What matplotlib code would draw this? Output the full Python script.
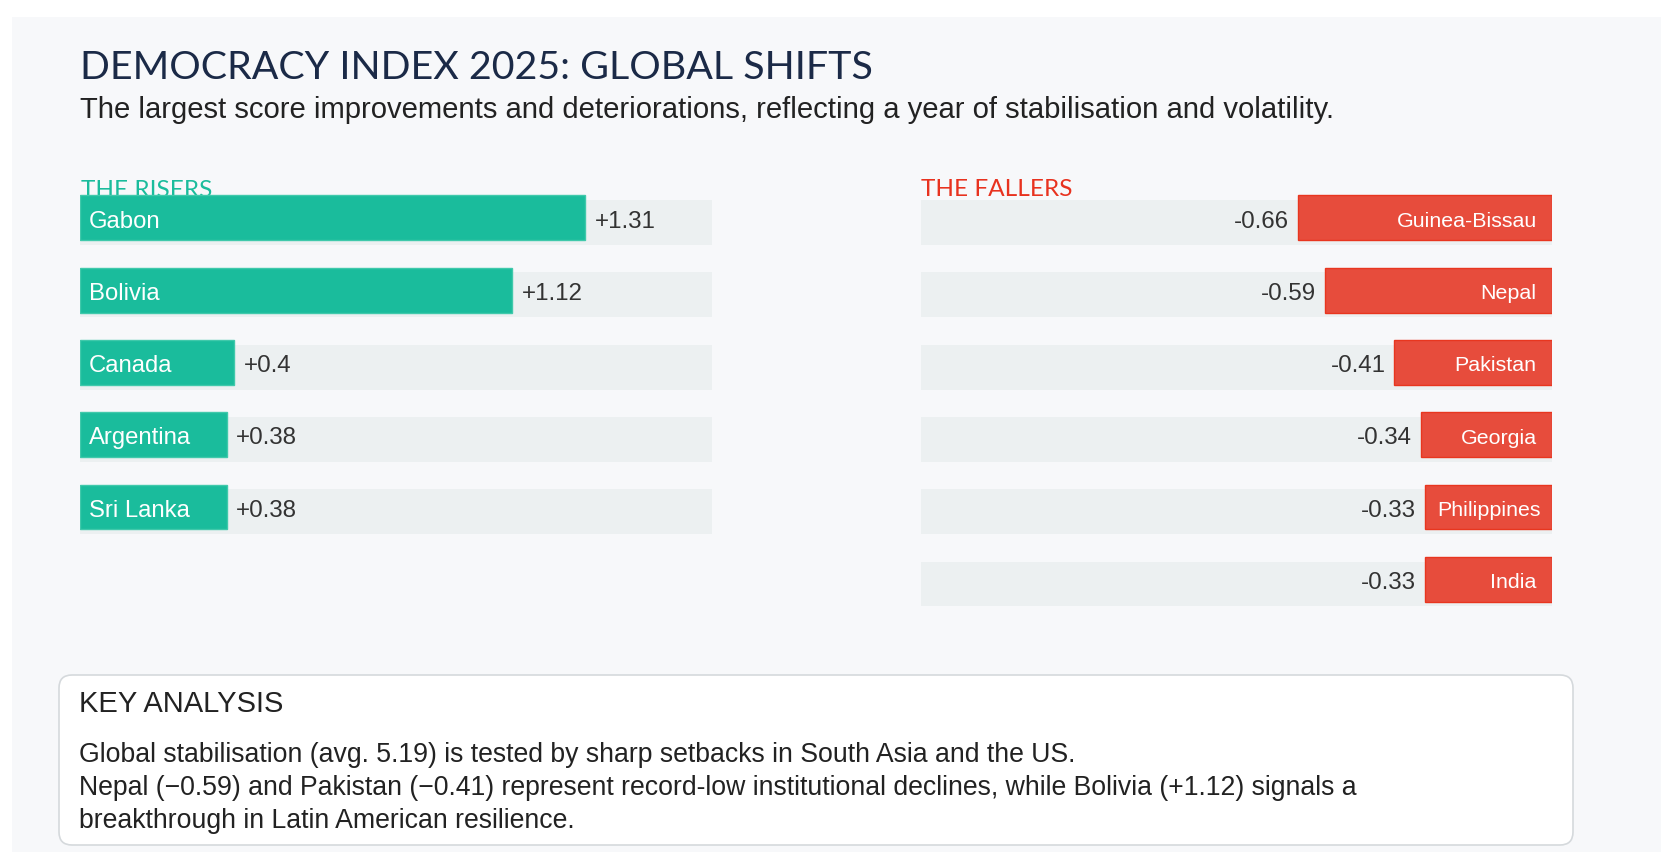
import matplotlib.pyplot as plt
from matplotlib.patches import Rectangle, FancyBboxPatch

# data
risers = ['Gabon', 'Bolivia', 'Canada', 'Argentina', 'Sri Lanka']
riser_values = [1.31, 1.12, 0.4, 0.38, 0.38]
fallers = ['Guinea-Bissau', 'Nepal', 'Pakistan', 'Georgia', 'Philippines', 'India']
faller_values = [-0.66, -0.59, -0.41, -0.34, -0.33, -0.33]

title = 'DEMOCRACY INDEX 2025: GLOBAL SHIFTS'
subtitle = ('The largest score improvements and deteriorations, '
            'reflecting a year of stabilisation and volatility.')
note_title = 'KEY ANALYSIS'
note_lines = [
    'Global stabilisation (avg. 5.19) is tested by sharp setbacks in South Asia and the US.',
    'Nepal (\u22120.59) and Pakistan (\u22120.41) represent record-low institutional declines, '
    'while Bolivia (+1.12) signals a',
    'breakthrough in Latin American resilience.',
]

TEAL = '#1abc9c'
RED = '#e74c3c'
TRACK = '#ecf0f1'
INK = '#222222'
SANS = 'Liberation Sans'

W, H = 1661, 853
fig = plt.figure(figsize=(W / 100, H / 100), dpi=100)
fig.patch.set_facecolor('white')

# background layer in pixel units
bg = fig.add_axes([0, 0, 1, 1])
bg.set_xlim(0, W)
bg.set_ylim(H, 0)
bg.axis('off')
bg.add_patch(Rectangle((12, 18), W - 12, H - 18, color='#f7f8fa', lw=0))
bg.add_patch(FancyBboxPatch((59, 676), 1573 - 59, 846 - 676,
                            boxstyle='round,pad=0,rounding_size=13',
                            fc='white', ec='#d5d9dc', lw=1.2))

bg.text(80, 79, title, fontsize=28.4, family='Lato', color='#1b2a47', va='baseline')
bg.text(80, 118, subtitle, fontsize=21.1, family=SANS, color=INK, va='baseline')
bg.text(81, 197, 'THE RISERS', fontsize=17.6, family='Lato', color=TEAL, va='baseline')
bg.text(921, 196, 'THE FALLERS', fontsize=17.6, family='Lato', color='#e8321f',
        va='baseline')
bg.text(79, 712, note_title, fontsize=21, family=SANS, color=INK, va='baseline')
for k, line in enumerate(note_lines):
    bg.text(79, 762 + 33 * k, line, fontsize=19.2, family=SANS,
            color=INK, va='baseline')


def px_axes(x0, x1, y0, y1):
    ax = fig.add_axes([x0 / W, 1 - y1 / H, (x1 - x0) / W, (y1 - y0) / H])
    ax.patch.set_alpha(0)
    ax.axis('off')
    return ax


top, pitch = 187.35, 72.3
ax_r = px_axes(80, 711.7, top, top + 6 * pitch)
ax_f = px_axes(921, 1552, top, top + 6 * pitch)

dmax = max(abs(v) for v in riser_values + faller_values) * 1.25
bar_h = 0.622
lift = 0.065  # bars sit slightly above their track

# risers
rows_r = list(range(len(risers)))
ax_r.barh(rows_r, [dmax] * len(risers), height=bar_h, color=TRACK, zorder=1)
ax_r.barh([i - lift for i in rows_r], riser_values, height=bar_h,
          color=TEAL, edgecolor='#40c9ab', lw=1, zorder=2)
ax_r.set_xlim(0, dmax)
ax_r.set_ylim(5.5, -0.5)
for i, (name, v) in enumerate(zip(risers, riser_values)):
    ax_r.annotate(f'{v:+g}', xy=(v, i - lift), xytext=(6.8, -6.3),
                  textcoords='offset points', ha='left', va='baseline',
                  fontsize=17.4, family=SANS, color='#333333', zorder=3)
    ax_r.annotate(name, xy=(0, i - lift), xytext=(6.5, -6.3),
                  textcoords='offset points', ha='left', va='baseline',
                  fontsize=17.2, family=SANS, color='white', zorder=3)

# fallers
rows_f = list(range(len(fallers)))
ax_f.barh(rows_f, [-dmax] * len(fallers), height=bar_h, color=TRACK, zorder=1)
ax_f.barh([i - lift for i in rows_f], faller_values, height=bar_h,
          color=RED, edgecolor='#e8361f', lw=1, zorder=2)
ax_f.set_xlim(-dmax, 0)
ax_f.set_ylim(5.5, -0.5)
name_texts = []
for i, (name, v) in enumerate(zip(fallers, faller_values)):
    ax_f.annotate(f'{v:g}', xy=(v, i - lift), xytext=(-6.2, -6.3),
                  textcoords='offset points', ha='right', va='baseline',
                  fontsize=17.4, family=SANS, color='#333333', zorder=3)
    t = ax_f.annotate(name, xy=(0, i - lift), xytext=(-11, -5.7),
                      textcoords='offset points', ha='right', va='baseline',
                      fontsize=15.4, family=SANS, color='white', zorder=3)
    name_texts.append(t)

# labels too wide for their bar keep a left padding instead
fig.canvas.draw()
renderer = fig.canvas.get_renderer()
for t, v in zip(name_texts, faller_values):
    bb = t.get_window_extent(renderer)
    bar_left = ax_f.transData.transform((v, 0))[0]
    if bb.x0 < bar_left + 12:
        t.xy = (v, t.xy[1])
        t.set_position((12 * 0.72, -5.7))
        t.set_horizontalalignment('left')

fig.savefig('out.png', dpi=100)
